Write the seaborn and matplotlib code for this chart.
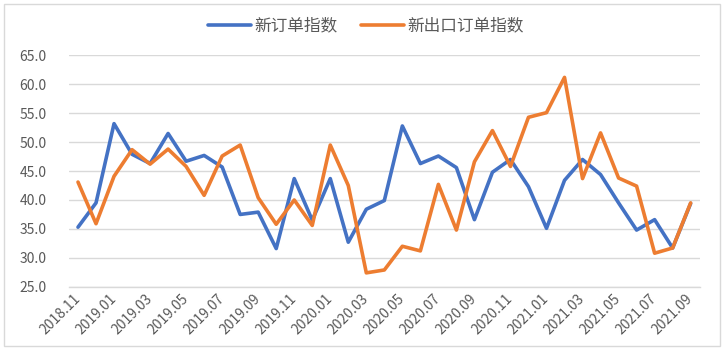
import matplotlib
matplotlib.use("Agg")
import matplotlib.pyplot as plt
import seaborn as sns
import pandas as pd
from matplotlib.patches import Rectangle

months = ["2018.11", "2018.12"] + [f"2019.{m:02d}" for m in range(1, 13)] + \
         [f"2020.{m:02d}" for m in range(1, 13)] + [f"2021.{m:02d}" for m in range(1, 10)]

new_orders = [35.3, 39.5, 53.2, 47.9, 46.3, 51.5, 46.7, 47.7, 45.7, 37.5,
              37.9, 31.6, 43.7, 36.5, 43.7, 32.7, 38.4, 39.9, 52.8, 46.3,
              47.6, 45.6, 36.6, 44.8, 47.0, 42.3, 35.1, 43.4, 47.0, 44.4,
              39.5, 34.8, 36.6, 31.7, 39.4]

new_export_orders = [43.1, 35.9, 44.1, 48.7, 46.2, 48.8, 45.8, 40.8, 47.6, 49.5,
                     40.4, 35.8, 40.0, 35.6, 49.5, 42.5, 27.4, 27.9, 32.0, 31.2,
                     42.7, 34.8, 46.6, 52.0, 45.8, 54.3, 55.1, 61.2, 43.7, 51.6,
                     43.8, 42.4, 30.8, 31.7, 39.5]

series_names = ["新订单指数", "新出口订单指数"]
y_ticks = [25, 30, 35, 40, 45, 50, 55, 60, 65]

df = pd.DataFrame({
    "month": months * 2,
    "value": new_orders + new_export_orders,
    "series": [series_names[0]] * len(months) + [series_names[1]] * len(months),
})

sns.set_theme(style="white")
plt.rcParams["font.family"] = ["Noto Sans CJK SC", "DejaVu Sans"]

fig = plt.figure(figsize=(7.27, 3.54), dpi=100)
ax = fig.add_axes([0.0949, 0.190, 0.8675, 0.6535])

sns.lineplot(data=df, x="month", y="value", hue="series", sort=False,
             palette=["#4472C4", "#ED7D31"], linewidth=2.6, ax=ax)

ax.set_xlim(-0.5, len(months) - 0.5)
ax.set_ylim(25, 65)
ax.set_yticks(y_ticks)
ax.set_yticklabels([f"{v:.1f}" for v in y_ticks], fontsize=10, color="#595959")
ax.yaxis.grid(True, color="#d9d9d9", linewidth=1.0)
ax.xaxis.grid(False)
ax.set_xlabel("")
ax.set_ylabel("")

xt = list(range(0, len(months), 2))
ax.set_xticks(xt)
ax.set_xticklabels([months[i] for i in xt], rotation=45, ha="right", va="center",
                   rotation_mode="anchor", fontsize=10, color="#595959")
ax.tick_params(axis="x", length=0, pad=7)
ax.tick_params(axis="y", length=0, pad=16)

for s in ["top", "right", "left"]:
    ax.spines[s].set_visible(False)
ax.spines["bottom"].set_color("#d9d9d9")
ax.spines["bottom"].set_linewidth(1.0)

leg = ax.legend(loc="center", bbox_to_anchor=(0.503, 0.927), bbox_transform=fig.transFigure,
                ncol=2, frameon=False, fontsize=12, handlelength=2.6, handletextpad=0.2,
                columnspacing=1.4)
for t in leg.get_texts():
    t.set_color("#595959")

fig.patches.append(Rectangle((4 / 727, 1 - 346 / 354), 716 / 727, 342 / 354,
                             transform=fig.transFigure, fill=False,
                             edgecolor="#d9d9d9", linewidth=1.0))

fig.savefig("out.png", dpi=100)
